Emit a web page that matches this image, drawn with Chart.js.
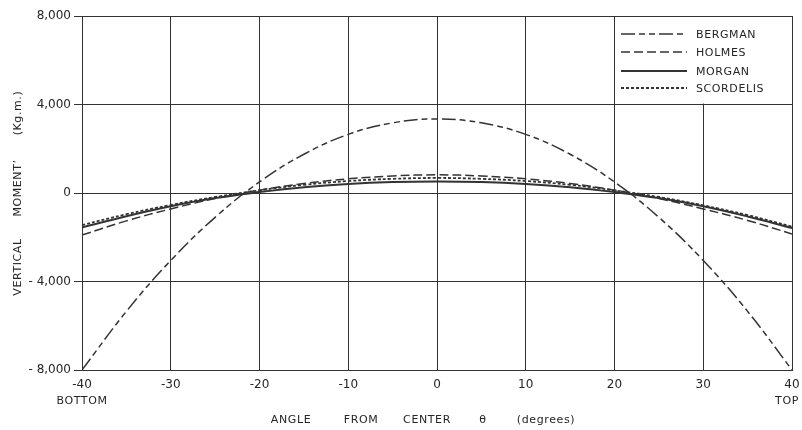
<!DOCTYPE html>
<html>
<head>
<meta charset="utf-8">
<script src="https://cdn.jsdelivr.net/npm/chart.js@4.4.1/dist/chart.umd.min.js"></script>
<style>
html,body{margin:0;padding:0;background:#fff;}
#wrap{width:802px;height:430px;position:relative;}
</style>
</head>
<body>
<div id="wrap"><canvas id="c" width="802" height="430"></canvas></div>
<script>
const angles = [-40,-35,-30,-25,-20,-15,-10,-5,0,5,10,15,20,25,30,35,40];
const bergman = [-8000,-5350,-3050,-1100,500,1750,2650,3170,3350,3170,2650,1750,500,-1100,-3050,-5350,-8000];
const holmes = [-1900,-1260,-720,-250,130,430,640,770,820,770,640,430,130,-250,-720,-1240,-1850];
const morgan = [-1560,-1050,-600,-230,40,260,410,495,520,495,410,260,40,-230,-600,-1060,-1580];
const scordelis = [-1450,-960,-540,-180,120,370,540,640,680,640,540,370,120,-180,-560,-1000,-1520];
const seriesNames = ['BERGMAN','HOLMES','MORGAN','SCORDELIS'];
const yTicks = [-8000,-4000,0,4000,8000];
const xTicks = [-40,-30,-20,-10,0,10,20,30,40];

const INK = '#333';
const TEXT = '#262626';
const FONT = '"DejaVu Sans", sans-serif';

function pts(arr){ return angles.map((a,i)=>({x:a,y:arr[i]})); }

const styles = [
  {borderDash:[14,4,6,4,6,4], borderWidth:1.5},
  {borderDash:[9,4], borderWidth:1.5},
  {borderDash:[], borderWidth:2},
  {borderDash:[3,2], borderWidth:1.8}
];
const seriesData = [bergman, holmes, morgan, scordelis];

const datasets = seriesData.map((d,i)=>({
  label: seriesNames[i],
  data: pts(d),
  borderColor: INK,
  borderWidth: styles[i].borderWidth,
  borderDash: styles[i].borderDash,
  pointRadius: 0,
  tension: 0.4,
  fill: false
}));

const decor = {
  id:'decor',
  afterDraw(chart){
    const ctx = chart.ctx;
    const xs = chart.scales.x, ys = chart.scales.y;
    ctx.save();
    ctx.fillStyle = TEXT;
    ctx.font = '11px ' + FONT;
    ctx.textBaseline = 'middle';
    ctx.textAlign = 'center';
    try{ ctx.letterSpacing = '0.6px'; }catch(e){}
    ctx.fillText('BOTTOM', xs.getPixelForValue(-40), 401);
    ctx.fillText('TOP', xs.getPixelForValue(40) - 5, 401);
    const words = [['ANGLE',291],['FROM',361],['CENTER',427],['θ',483],['(degrees)',546]];
    words.forEach(w=>ctx.fillText(w[0], w[1], 420));
    ctx.save();
    ctx.translate(18, 0);
    ctx.rotate(-Math.PI/2);
    [['VERTICAL',267],['MOMENT\u2019',188],['(Kg.m.)',113]].forEach(w=>ctx.fillText(w[0], -w[1], 0));
    ctx.restore();
    const lx = Math.round(xs.getPixelForValue(20)), rx = xs.right, ty = ys.top, by = ys.getPixelForValue(4000);
    ctx.fillStyle = '#fff';
    ctx.fillRect(lx+1, ty+1, rx-lx-2, by-ty-2);
    const rows = [34,52,71,88];
    chart.data.datasets.forEach((ds,i)=>{
      ctx.save();
      ctx.strokeStyle = INK;
      ctx.lineWidth = ds.borderWidth;
      ctx.setLineDash(ds.borderDash);
      ctx.beginPath();
      ctx.moveTo(621, rows[i]); ctx.lineTo(687, rows[i]);
      ctx.stroke();
      ctx.restore();
      ctx.fillStyle = TEXT;
      ctx.textAlign = 'left';
      ctx.fillText(ds.label, 696, rows[i]+1);
    });
    ctx.restore();
  }
};

new Chart(document.getElementById('c'), {
  type:'line',
  data:{datasets},
  plugins:[decor],
  options:{
    responsive:false,
    animation:false,
    layout:{padding:{left:0,right:10,top:16,bottom:0}},
    plugins:{legend:{display:false},tooltip:{enabled:false}},
    scales:{
      x:{
        type:'linear', min:-40, max:40,
        afterBuildTicks(s){ s.ticks = xTicks.map(v=>({value:v})); },
        afterFit(s){ s.height = 60; s.paddingLeft = 0; s.paddingRight = 0; },
        grid:{color:INK, lineWidth:1, drawTicks:false},
        border:{color:INK, width:1},
        ticks:{color:TEXT, padding:8, font:{family:FONT,size:12}, maxRotation:0, autoSkip:false,
          callback:v=>String(v)}
      },
      y:{
        type:'linear', min:-8000, max:8000,
        afterBuildTicks(s){ s.ticks = yTicks.map(v=>({value:v})); },
        afterFit(s){ s.width = 82; s.paddingTop = 0; s.paddingBottom = 0; },
        grid:{color:INK, lineWidth:1, tickLength:8},
        border:{color:INK, width:1},
        ticks:{color:TEXT, padding:3, font:{family:FONT,size:12},
          callback:v=> v===0 ? '0' : (v<0 ? '- ' + Math.abs(v).toLocaleString('en-US') : v.toLocaleString('en-US'))}
      }
    }
  }
});
</script>
</body>
</html>
